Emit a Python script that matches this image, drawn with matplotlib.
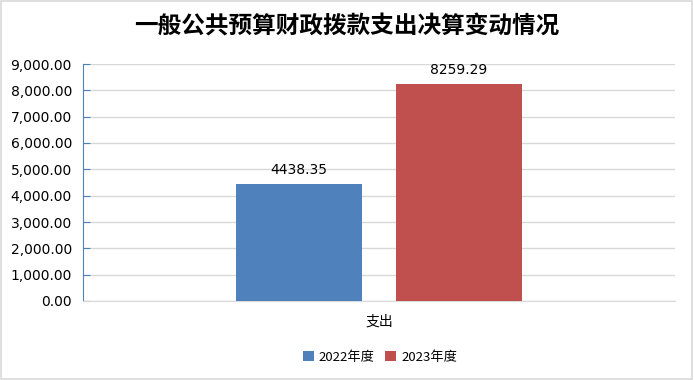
import matplotlib.pyplot as plt
from matplotlib.patches import Rectangle
from matplotlib.ticker import FuncFormatter

plt.rcParams['font.family'] = ['Noto Sans CJK SC', 'DejaVu Sans']

# data
categories = ['支出']
series_names = ['2022年度', '2023年度']
values_2022 = [4438.35]
values_2023 = [8259.29]
colors = ['#4F81BD', '#C0504D']

fig = plt.figure(figsize=(6.94, 3.80), dpi=100)
ax = fig.add_axes([83 / 694, 1 - 301 / 380, 592 / 694, 237 / 380])

# grey frame around the whole chart
fig.patches.append(Rectangle((0.002, 0.003), 0.995, 0.994, transform=fig.transFigure,
                             fill=False, edgecolor='#D9D9D9', linewidth=1.2))

x = list(range(len(categories)))
width = 0.213
offset = 0.135
bars = []
for i, (vals, name) in enumerate(zip([values_2022, values_2023], series_names)):
    pos = [xi + (i - 0.5) * 2 * offset for xi in x]
    b = ax.bar(pos, vals, width=width, color=colors[i], label=name, zorder=3)
    bars.append(b)
    for rect, v in zip(b, vals):
        ax.annotate(f'{v:.2f}', (rect.get_x() + rect.get_width() / 2, v),
                    xytext=(0, 5), textcoords='offset points', ha='center', va='bottom',
                    fontsize=10, family='DejaVu Sans', color='black')

ax.set_xlim(-0.5, 0.5)
ax.set_ylim(0, 9000)
ax.set_yticks(range(0, 9001, 1000))
ax.yaxis.set_major_formatter(FuncFormatter(lambda v, p: f'{v:,.2f}'))
ax.set_xticks(x)
ax.set_xticklabels(categories, fontsize=10)

ax.grid(axis='y', color='#D9D9D9', linewidth=1, zorder=0)
ax.set_axisbelow(True)
for s in ['top', 'right']:
    ax.spines[s].set_visible(False)
ax.spines['left'].set_color('#4F81BD')
ax.spines['bottom'].set_color('#D9D9D9')
ax.tick_params(axis='y', direction='in', length=5, color='#4F81BD', labelsize=10, pad=8)
for lbl in ax.get_yticklabels():
    lbl.set_family('DejaVu Sans')
ax.tick_params(axis='x', length=0, pad=10)

fig.text(0.5, 1 - 27 / 380, '一般公共预算财政拨款支出决算变动情况', ha='center', va='center',
         fontsize=17, fontweight='bold')

fig.legend(handles=[bars[0], bars[1]], labels=series_names, loc='center',
           bbox_to_anchor=(380 / 694, 1 - 357 / 380), ncol=2, frameon=False,
           fontsize=9.5, handlelength=0.8, handleheight=0.8, handletextpad=0.4,
           columnspacing=0.8)

fig.savefig('out.png', dpi=100)
